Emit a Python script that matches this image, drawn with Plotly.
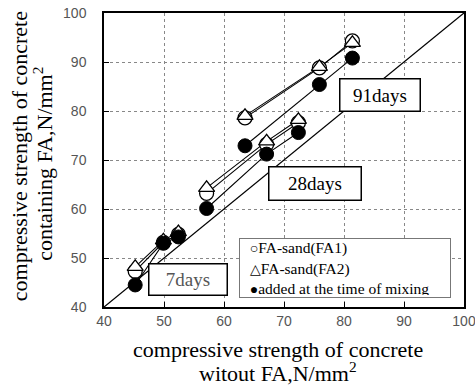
import plotly.graph_objects as go

# ---- data ----
ages = ["7days", "28days", "91days"]
x_7 = [45.2, 49.9, 52.4]
fa1_7 = [47.3, 53.2, 54.8]
fa2_7 = [48.2, 53.6, 55.3]
mix_7 = [44.5, 53.0, 54.3]

x_28 = [57.1, 67.1, 72.4]
fa1_28 = [63.2, 73.2, 77.6]
fa2_28 = [64.3, 73.8, 78.2]
mix_28 = [60.1, 71.2, 75.6]

x_91 = [63.5, 75.9, 81.4]
fa1_91 = [78.6, 88.8, 94.3]
fa2_91 = [79.0, 89.0, 93.9]
mix_91 = [72.9, 85.4, 90.8]

series_names = ["FA-sand(FA1)", "FA-sand(FA2)", "added at the time of mixing"]
series_glyphs = ["○", "△", "●"]
equal_line = [40, 100]
x_ticks = [40, 50, 60, 70, 80, 90, 100]
y_ticks = [40, 50, 60, 70, 80, 90, 100]

x_title = ["compressive strength of concrete", "witout FA,N/mm<sup>2</sup>"]
y_title = ["compressive strength of concrete", "containing FA,N/mm<sup>2</sup>"]

# label box anchor positions (data coords)
age_label_x = [54.0, 75.2, 86.0]
age_label_y = [45.7, 65.2, 83.3]
age_label_w = [77, 91, 79]
age_label_h = [30, 32, 31]
legend_x, legend_y = 80.2, 48.0

SERIF = "Liberation Serif"
SANS = "Liberation Sans"

fig = go.Figure()

# 1:1 line
fig.add_trace(go.Scatter(x=equal_line, y=equal_line, mode="lines",
                         line=dict(color="black", width=1.3),
                         showlegend=False, hoverinfo="skip"))

groups = [(x_7, fa1_7, fa2_7, mix_7), (x_28, fa1_28, fa2_28, mix_28),
          (x_91, fa1_91, fa2_91, mix_91)]

styles = [
    dict(symbol="circle", size=14, color="white", line=dict(color="black", width=1.3)),
    dict(symbol="triangle-up", size=14, color="white", line=dict(color="black", width=1.3)),
    dict(symbol="circle", size=14, color="black", line=dict(color="black", width=1)),
]

for si in range(3):
    for g in groups:
        fig.add_trace(go.Scatter(x=g[0], y=g[si + 1], mode="lines",
                                 line=dict(color="black", width=1.1),
                                 showlegend=False, hoverinfo="skip"))
for si in range(3):
    for g in groups:
        fig.add_trace(go.Scatter(x=g[0], y=g[si + 1], mode="markers",
                                 marker=styles[si], showlegend=False,
                                 name=series_names[si]))

for i, lab in enumerate(ages):
    fig.add_annotation(x=age_label_x[i], y=age_label_y[i], text=lab,
                       showarrow=False, xref="x", yref="y",
                       xanchor="center", yanchor="middle",
                       font=dict(family=SERIF, size=19,
                                 color="#555" if i == 0 else "black"),
                       bgcolor="white", bordercolor="black", borderwidth=1.5,
                       width=age_label_w[i], height=age_label_h[i], borderpad=0)

legend_text = "<br>".join(
    "\u00a0\u00a0<span style='font-size:14px'>" + g + "</span>" + n
    for g, n in zip(series_glyphs, series_names))
fig.add_annotation(x=legend_x, y=legend_y, xref="x", yref="y", text=legend_text,
                   showarrow=False, align="left", xanchor="center", yanchor="middle",
                   font=dict(family=SERIF, size=15.5, color="black"),
                   bgcolor="white", bordercolor="#777", borderwidth=1,
                   width=206, height=54, borderpad=2)

# axis titles (two lines each)
title_font = dict(family=SERIF, size=22, color="black")
fig.add_annotation(text=x_title[0], xref="paper", yref="paper", x=0.482, y=-0.193,
                   xanchor="center", yanchor="bottom", showarrow=False, font=title_font)
fig.add_annotation(text=x_title[1], xref="paper", yref="paper", x=0.484, y=-0.2745,
                   xanchor="center", yanchor="bottom", showarrow=False, font=title_font)
fig.add_annotation(text=y_title[0], xref="paper", yref="paper", x=-0.1938, y=0.512,
                   xanchor="right", yanchor="middle", textangle=-90,
                   showarrow=False, font=title_font)
fig.add_annotation(text=y_title[1], xref="paper", yref="paper", x=-0.1257, y=0.486,
                   xanchor="right", yanchor="middle", textangle=-90,
                   showarrow=False, font=title_font)

fig.update_layout(
    width=475, height=385,
    margin=dict(l=104, r=11, t=13, b=78),
    paper_bgcolor="white", plot_bgcolor="white",
    showlegend=False,
)

axis_common = dict(
    showline=True, mirror=True, linecolor="black", linewidth=1.5,
    showgrid=True, gridcolor="#888", griddash="dot", gridwidth=1,
    ticks="inside", ticklen=5, tickcolor="black",
    tickfont=dict(family=SANS, size=14, color="#555"),
    zeroline=False, automargin=False, ticklabeloverflow="allow",
)
fig.update_xaxes(range=[40, 100], tickvals=x_ticks, **axis_common)
fig.update_yaxes(range=[40, 100], tickvals=y_ticks, ticklabelstandoff=13,
                 **axis_common)

fig.write_html("out.html")
